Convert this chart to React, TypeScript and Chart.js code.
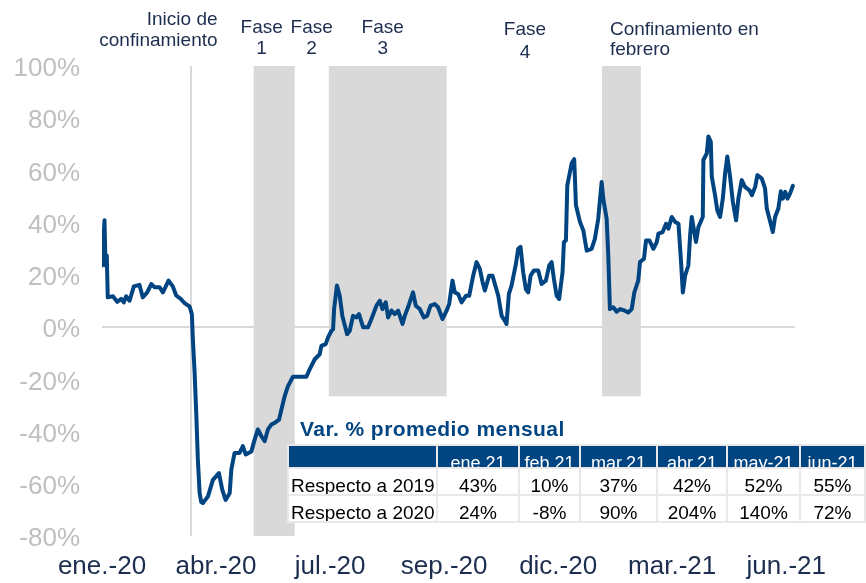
import React, { useEffect, useRef } from "react";
import { Chart, registerables } from "chart.js";

Chart.register(...registerables);

// Days since 1 Jan 2020
const dayOffset = [
  0, 2.0, 2.8, 3.8, 4.6, 8.7, 12.1, 15.3, 17.4, 19.3, 22.0, 25.4, 29.9, 32.5, 36.1, 39.3, 41.9, 45.9, 48.6, 53.1,
  56.5, 59.2, 62.8, 65.9, 69.9, 71.7, 72.5, 73.9, 75.3, 76.5, 77.9, 79.2, 80.5, 84.5, 88.5, 93.3, 96.0, 98.6, 101.9, 103.2,
  105.8, 109.8, 112.4, 114.7, 119.2, 121.8, 124.4, 127.2, 129.8, 132.4, 135.1, 137.8, 141.3, 143.2, 145.8, 148.4, 152.4, 160.4, 163.1, 165.7,
  169.8, 173.7, 175.1, 178.5, 180.3, 183.1, 184.4, 185.2, 187.5, 189.7, 191.8, 195.6, 197.7, 200.3, 203.0, 205.1, 208.4, 212.3, 215.0, 219.0,
  221.7, 223.8, 226.4, 228.3, 231.0, 233.6, 236.3, 239.8, 241.6, 244.2, 248.2, 250.4, 253.6, 256.8, 259.4, 262.2, 265.6, 268.2, 271.7, 275.0,
  277.0, 279.7, 281.5, 284.2, 286.9, 290.4, 293.0, 296.2, 298.9, 301.5, 303.7, 305.5, 308.9, 311.6, 313.5, 316.2, 318.9, 321.5, 322.8, 324.7,
  326.8, 330.3, 332.1, 334.0, 336.1, 338.2, 340.1, 342.0, 344.7, 348.1, 350.8, 354.2, 356.9, 358.8, 360.6, 362.8, 364.8, 367.5, 368.6, 370.2,
  371.3, 374.8, 376.8, 378.2, 381.4, 384.1, 386.8, 390.7, 393.3, 396.0, 398.7, 400.0, 402.7, 404.0, 405.3, 408.0, 410.7, 413.4, 417.3, 419.9,
  422.7, 424.8, 427.9, 429.3, 432.5, 434.1, 436.8, 440.0, 442.7, 444.0, 447.4, 450.1, 452.0, 454.6, 457.3, 460.0, 461.9, 463.5, 465.3, 467.9,
  469.3, 470.6, 474.0, 475.9, 479.4, 479.9, 482.6, 483.9, 485.8, 486.6, 489.2, 491.0, 493.2, 495.4, 497.2, 499.0, 501.2, 503.4, 506.0, 507.8,
  510.5, 513.1, 516.7, 518.6, 521.2, 523.0, 526.5, 529.1, 530.5, 532.6, 535.3, 537.1, 539.7, 541.7, 543.3, 545.2, 547.0, 549.1, 551.3,
];

// % change vs same period of 2019
const pctChange = [
  23.6, 40.9, 23.6, 27.4, 11.4, 11.8, 9.7, 10.8, 9.5, 11.8, 10.1, 15.6, 16.2, 11.4, 13.3, 16.5, 15.3, 15.3, 13.3, 17.8,
  15.6, 12.1, 10.8, 9.2, 7.9, 5.0, -4.6, -17.4, -34.1, -50.8, -63.6, -67.0, -67.4, -64.9, -58.5, -55.9, -62.3, -66.2, -63.6, -54.6,
  -48.2, -48.2, -45.6, -48.8, -47.6, -43.1, -39.2, -41.8, -43.7, -39.2, -37.3, -36.7, -35.4, -31.5, -26.4, -22.6, -19, -19, -19, -16.2,
  -12.3, -10.4, -7.2, -6.5, -4, -1.4, -0.8, 6.9, 15.9, 12, 4.3, -2.7, -1.4, 4.3, 3.7, 5, -0.1, -0.1, 3.1, 8.2,
  10.1, 6.9, 9.5, 3.7, 6.3, 5, 6.3, 1.2, 4.3, 7.6, 13.3, 8.2, 6.9, 3.7, 4.3, 8.2, 8.8, 7.6, 3.1, 6.3,
  8.8, 17.8, 13.3, 12.7, 9.5, 12, 12, 19.7, 24.9, 22.3, 17.2, 14, 19.7, 19.7, 16.5, 12, 4.3, 2.4, 1.2, 12.7,
  15.9, 24.2, 30, 30.7, 21, 14.6, 13.3, 19.7, 21.7, 21.7, 16.5, 17.8, 23.6, 24.9, 18.5, 12, 10.8, 21, 32.6, 33.2,
  54.3, 62.7, 64.3, 46.7, 40.3, 37, 29.3, 30, 33.8, 41.5, 55.6, 49.2, 41.5, 27.4, 6.9, 7.6, 5.9, 6.9, 6.3, 5.6,
  6.9, 13.3, 17.8, 24.9, 26.2, 33.2, 33.2, 30, 32.6, 35.8, 36.4, 39.6, 37.7, 42.2, 40.3, 39.6, 26.2, 13.3, 19.7, 23.6,
  35.1, 42.2, 32.6, 38.3, 42.2, 64, 66.5, 73, 71, 57.6, 50.5, 44.7, 42.2, 49.2, 58.8, 65.3, 57.6, 48, 40.9, 49.2,
  56.3, 53.7, 52.4, 50.5, 53.7, 58.2, 56.9, 53.1, 45.4, 41.5, 36.4, 42.2, 45.4, 52, 49.2, 51.8, 49.2, 51.2, 54.1,
];

const tickDays = [0, 91, 182, 273, 364, 455, 546];
const tickLabels = ["ene.-20", "abr.-20", "jul.-20", "sep.-20", "dic.-20", "mar.-21", "jun.-21"];
const yTickValues = [-80, -60, -40, -20, 0, 20, 40, 60, 80, 100];

// Shaded periods (days since 1 Jan 2020) and the floor of each shading (%)
const phaseStart = [121, 181, 399];
const phaseEnd = [153.8, 275, 430];
const phaseFloor = [-80, -26.5, -26.5];
const lockdownStartDay = 71;

const annotationLines = [
  ["Inicio de", "confinamiento"],
  ["Fase", "1"],
  ["Fase", "2"],
  ["Fase", "3"],
  ["Fase", "4"],
  ["Confinamiento en", "febrero"],
];
const annotationDay = [92.2, 127.4, 167.3, 224, 337.5, 405.3];

const tableMonths = ["ene.21", "feb.21", "mar.21", "abr.21", "may-21", "jun-21"];
const rowLabels = ["Respecto a 2019", "Respecto a 2020"];
const vs2019 = [43, 10, 37, 42, 52, 55];
const vs2020 = [24, -8, 90, 204, 140, 72];

const FONT = "'Liberation Sans', Arial, sans-serif";
const NAVY = "#1c2d4f";
const BLUE = "#004481";

const annotationStyle = [
  { align: "right", base: [25, 46] },
  { align: "center", base: [33, 54] },
  { align: "center", base: [33, 54] },
  { align: "center", base: [33, 54] },
  { align: "center", base: [35, 58] },
  { align: "left", base: [35, 55] },
];

const decorPlugin = {
  id: "decor",
  beforeDatasetsDraw(chart: any) {
    const { ctx, chartArea } = chart;
    const x = chart.scales.x;
    const y = chart.scales.y;
    ctx.save();
    ctx.fillStyle = "#d9d9d9";
    for (let i = 0; i < phaseStart.length; i++) {
      const x0 = x.getPixelForValue(phaseStart[i]);
      const x1 = x.getPixelForValue(phaseEnd[i]);
      const y0 = y.getPixelForValue(100);
      const y1 = y.getPixelForValue(phaseFloor[i]);
      ctx.fillRect(x0, y0, x1 - x0, y1 - y0);
    }
    const xl = x.getPixelForValue(lockdownStartDay);
    ctx.strokeStyle = "#d9d9d9";
    ctx.lineWidth = 2;
    ctx.beginPath();
    ctx.moveTo(xl, chartArea.top);
    ctx.lineTo(xl, chartArea.bottom);
    ctx.stroke();
    ctx.restore();
  },
  afterDraw(chart: any) {
    const { ctx } = chart;
    const x = chart.scales.x;
    ctx.save();
    ctx.fillStyle = NAVY;
    ctx.font = `19px ${FONT}`;
    ctx.textBaseline = "alphabetic";
    annotationLines.forEach((lines, i) => {
      const px = x.getPixelForValue(annotationDay[i]);
      const st = annotationStyle[i];
      ctx.textAlign = st.align as CanvasTextAlign;
      lines.forEach((t, j) => ctx.fillText(t, px, st.base[j]));
    });
    ctx.restore();
  },
};

function ChartCanvas() {
  const ref = useRef<HTMLCanvasElement | null>(null);
  useEffect(() => {
    if (!ref.current) return;
    const points = dayOffset.map((d, i) => ({ x: d, y: pctChange[i] }));
    const chart = new Chart(ref.current, {
      type: "line",
      data: {
        datasets: [
          {
            data: points,
            borderColor: BLUE,
            borderWidth: 4,
            pointRadius: 0,
            tension: 0,
            fill: false,
            borderJoinStyle: "round",
            borderCapStyle: "round",
          },
        ],
      },
      options: {
        animation: false,
        responsive: false,
        devicePixelRatio: 1,
        parsing: false,
        layout: { padding: { top: 66, right: 71, left: 0, bottom: 0 } },
        plugins: { legend: { display: false }, tooltip: { enabled: false } },
        scales: {
          x: {
            type: "linear",
            min: 0,
            max: 553,
            afterBuildTicks: (s: any) => {
              s.ticks = tickDays.map((v) => ({ value: v }));
            },
            afterFit: (s: any) => {
              s.height = 47;
            },
            ticks: {
              autoSkip: false,
              maxRotation: 0,
              padding: 15,
              color: NAVY,
              font: { family: FONT, size: 26 },
              callback: (_v: any, i: number) => tickLabels[i],
            },
            grid: { display: false, drawTicks: false },
            border: { display: false },
          },
          y: {
            min: -80,
            max: 100,
            afterBuildTicks: (s: any) => {
              s.ticks = yTickValues.map((v) => ({ value: v }));
            },
            afterFit: (s: any) => {
              s.width = 102;
            },
            ticks: {
              padding: 22,
              labelOffset: 3,
              color: "#bfbfbf",
              font: { family: FONT, size: 26 },
              callback: (v: any) => `${v}%`,
            },
            grid: {
              drawTicks: false,
              lineWidth: 2,
              color: (c: any) => (c.tick && c.tick.value === 0 ? "#d9d9d9" : "rgba(0,0,0,0)"),
            },
            border: { display: false },
          },
        },
      },
      plugins: [decorPlugin],
    });
    return () => chart.destroy();
  }, []);
  return <canvas ref={ref} width={866} height={583} style={{ position: "absolute", left: 0, top: 0 }} />;
}

function SummaryTable() {
  const colLeft = [289, 438, 520, 581, 658, 728, 801];
  const colWidth = [147, 80, 59, 75, 68, 71, 63];
  const rowTop = [469, 496];
  const rows = [vs2019, vs2020];
  const fmt = (v: number) => `${v}%`;
  return (
    <>
      <div
        style={{
          position: "absolute",
          left: 300,
          top: 418,
          font: `bold 21px ${FONT}`,
          lineHeight: "21px",
          letterSpacing: "0.45px",
          color: BLUE,
          whiteSpace: "nowrap",
        }}
      >
        Var. % promedio mensual
      </div>
      <div style={{ position: "absolute", left: 287, top: 444, width: 579, height: 79, background: "#e8e8e8" }} />
      {colLeft.map((l, c) => (
        <div
          key={"h" + c}
          style={{
            position: "absolute",
            left: l,
            top: 446,
            width: colWidth[c],
            height: 21,
            background: BLUE,
            color: "#ffffff",
            overflow: "hidden",
            boxSizing: "border-box",
            paddingTop: 8,
            font: `18px ${FONT}`,
            lineHeight: "18px",
            textAlign: "center",
            whiteSpace: "nowrap",
          }}
        >
          {c === 0 ? "" : tableMonths[c - 1]}
        </div>
      ))}
      {rows.map((vals, r) =>
        colLeft.map((l, c) => (
          <div
            key={"r" + r + "c" + c}
            style={{
              position: "absolute",
              left: l,
              top: rowTop[r],
              width: colWidth[c],
              height: 25,
              background: "#ffffff",
              color: "#000000",
              overflow: "hidden",
              boxSizing: "border-box",
              paddingTop: 7,
              paddingLeft: c === 0 ? 2 : 0,
              font: `19px ${FONT}`,
              lineHeight: "19px",
              textAlign: c === 0 ? "left" : "center",
              whiteSpace: "nowrap",
            }}
          >
            {c === 0 ? rowLabels[r] : fmt(vals[c - 1])}
          </div>
        ))
      )}
    </>
  );
}

export default function App() {
  return (
    <div style={{ position: "absolute", left: 0, top: 0, width: 866, height: 583, background: "#ffffff", overflow: "hidden" }}>
      <ChartCanvas />
      <SummaryTable />
    </div>
  );
}
